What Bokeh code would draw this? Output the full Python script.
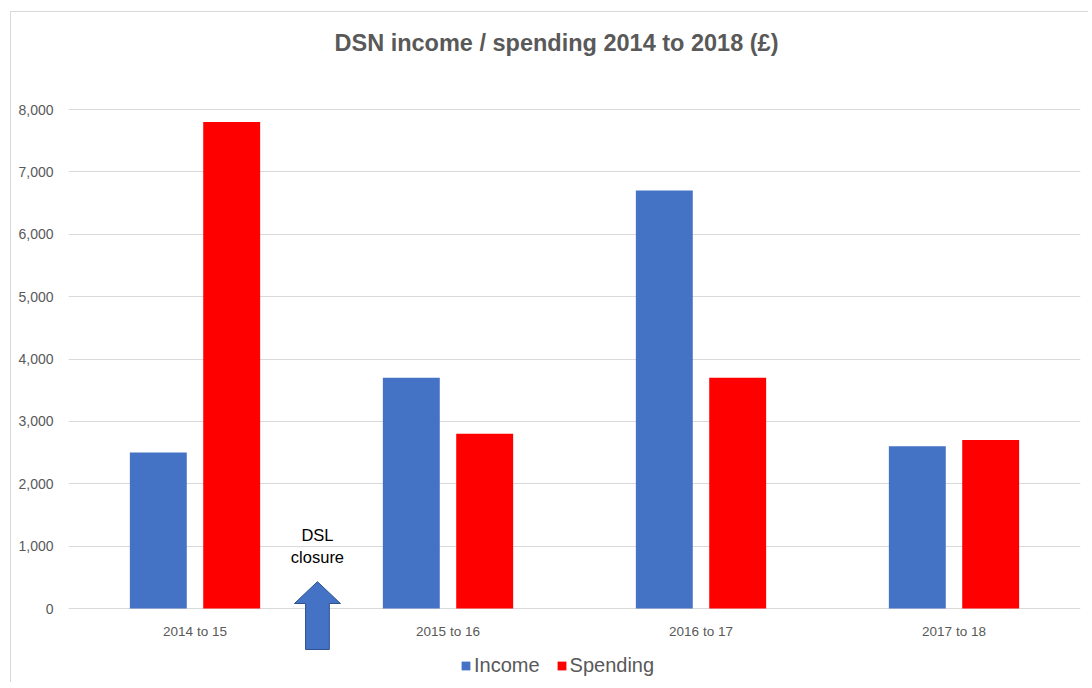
from bokeh.plotting import figure
from bokeh.models import (FactorRange, Range1d, FixedTicker, ColumnDataSource, Label,
                          Legend, LegendItem, NumeralTickFormatter)
from bokeh.transform import dodge
from bokeh.core.properties import value
from bokeh.embed import file_html
from bokeh.resources import INLINE

# ---- data ----
categories = ["2014 to 15", "2015 to 16", "2016 to 17", "2017 to 18"]
income = [2500, 3700, 6700, 2600]
spending = [7800, 2800, 3700, 2700]
y_ticks = [0, 1000, 2000, 3000, 4000, 5000, 6000, 7000, 8000]
title_text = "DSN income / spending 2014 to 2018 (£)"
note_text = "DSL\nclosure"

# ---- styles / positions ----
BLUE = "#4472C4"
RED = "#FF0000"
GREY = "#595959"
FONT = "Liberation Sans"

W, H = 1078, 671
FRAME_LEFT = 57
ZERO_Y = 596                     # canvas pixel row of the zero line
px_per_unit = 62.375 / 1000.0    # pixels per £

p = figure(width=W, height=H, output_backend="svg", toolbar_location=None,
           x_range=FactorRange(*categories, range_padding=0),
           y_range=Range1d(-(H - ZERO_Y) / px_per_unit, ZERO_Y / px_per_unit),
           min_border_left=FRAME_LEFT, min_border_right=W - FRAME_LEFT - 1012,
           min_border_top=0, min_border_bottom=0)
p.styles = {"border-left": "1px solid #d9d9d9", "border-top": "1px solid #d9d9d9",
            "margin-left": "10px", "margin-top": "11px"}
p.outline_line_color = None
p.xaxis.visible = False
p.xgrid.grid_line_color = None
p.ygrid.ticker = FixedTicker(ticks=y_ticks)
p.ygrid.grid_line_color = "#d9d9d9"
p.ygrid.grid_line_width = 1
p.yaxis.ticker = FixedTicker(ticks=y_ticks)
p.yaxis.formatter = NumeralTickFormatter(format="0,0")
p.yaxis.axis_line_color = None
p.yaxis.major_tick_line_color = None
p.yaxis.minor_tick_line_color = None
p.yaxis.major_label_text_color = GREY
p.yaxis.major_label_text_font = FONT
p.yaxis.major_label_text_font_size = "14px"
p.yaxis.major_label_standoff = 9

src = ColumnDataSource(dict(cat=categories, income=income, spending=spending,
                            label_y=[-370] * len(categories)))

r_inc = p.vbar(x=dodge("cat", -0.145, range=p.x_range), top="income", width=0.225,
               source=src, fill_color=BLUE, line_color=None)
r_sp = p.vbar(x=dodge("cat", 0.145, range=p.x_range), top="spending", width=0.225,
              source=src, fill_color=RED, line_color=None)

# category labels
p.text(x="cat", y="label_y", text="cat", source=src, text_align="center",
       text_baseline="middle", text_color=GREY, text_font=value(FONT),
       text_font_size="13.5px")

# block arrow (DSL closure marker), x in synthetic categorical units
ax = 0.984
head_hw, shaft_hw = 0.091, 0.047
tip_y, head_base_y, tail_y = 430, 80, -657
arrow_x = [ax, ax + head_hw, ax + shaft_hw, ax + shaft_hw, ax - shaft_hw, ax - shaft_hw, ax - head_hw]
arrow_y = [tip_y, head_base_y, head_base_y, tail_y, tail_y, head_base_y, head_base_y]
p.patch(arrow_x, arrow_y, fill_color=BLUE, line_color="#2F528F", line_width=1)

p.text(x=[ax], y=[1000], text=[note_text], text_align="center", text_baseline="middle",
       text_color="#000000", text_font=value(FONT), text_font_size="16.5px",
       text_line_height=1.25)

# title
p.add_layout(Label(x=556 - 11 - FRAME_LEFT, y=(608 - 42) / px_per_unit, x_units="screen",
                   text=title_text, text_align="center", text_baseline="middle",
                   text_color=GREY, text_font=FONT, text_font_style="bold",
                   text_font_size="23.5px"))

legend = Legend(items=[LegendItem(label="Income", renderers=[r_inc]),
                       LegendItem(label="Spending", renderers=[r_sp])],
                orientation="horizontal", location=(392, 6),
                background_fill_alpha=0, border_line_color=None,
                label_text_color=GREY, label_text_font=FONT, label_text_font_size="20px",
                glyph_width=11, glyph_height=11, spacing=16, label_standoff=3, padding=0, margin=0)
p.add_layout(legend)

open("out.html", "w").write(file_html(p, INLINE))
